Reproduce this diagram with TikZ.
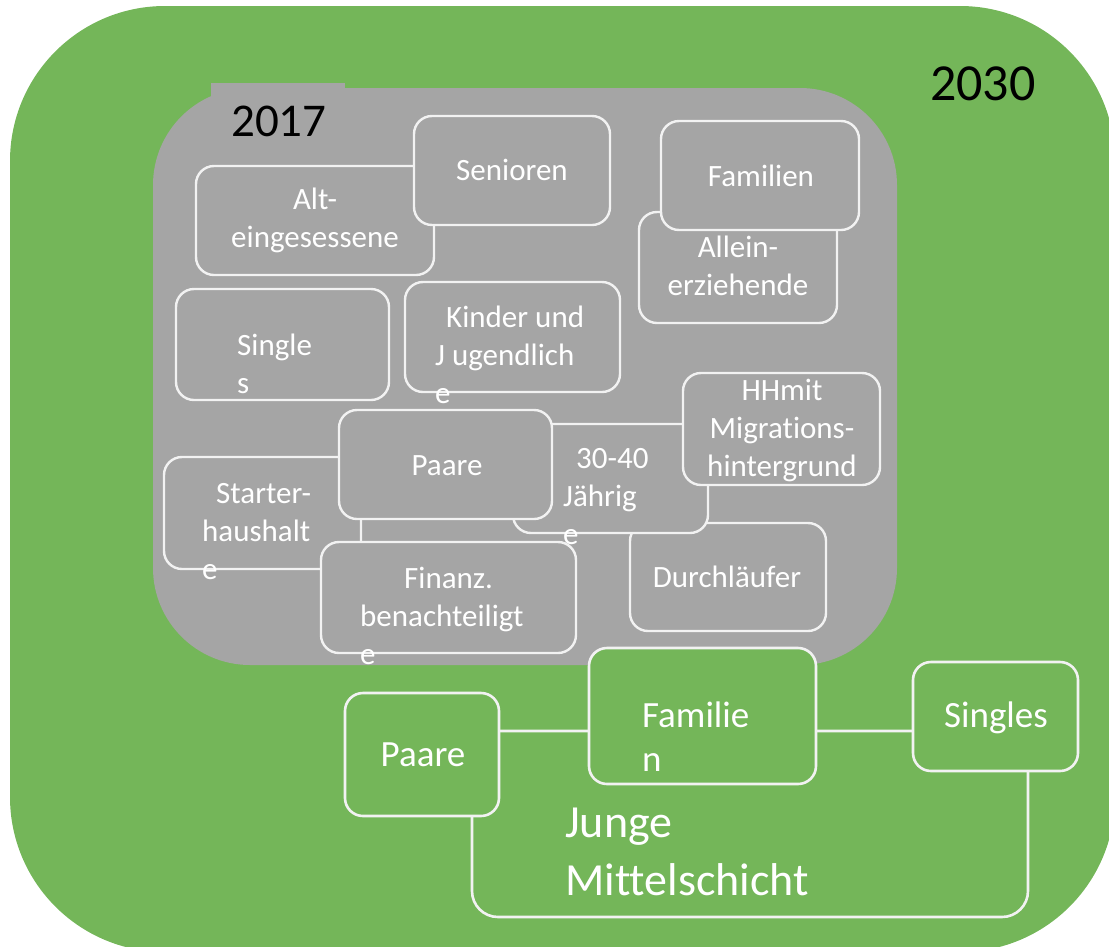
\documentclass[tikz,border=0pt]{standalone}
\usepackage{fontspec}
\setmainfont{Carlito}[Ligatures=NoCommon]
\usetikzlibrary{fit}
\definecolor{outergreen}{RGB}{116,182,89}
\definecolor{panelgray}{RGB}{165,165,165}
\definecolor{edgewhite}{RGB}{242,242,242}
\newcommand\txtC[1]{\begin{tabular}[t]{@{}c@{}}#1\end{tabular}}
\newcommand\txtL[1]{\begin{tabular}[t]{@{}l@{}}#1\end{tabular}}
\begin{document}
\begin{tikzpicture}[x=1pt,y=-1pt]
\tikzset{seg/.style={draw=edgewhite,line width=2.4pt,rounded corners=18pt,inner sep=0pt,fill=panelgray},
  gseg/.style={seg,fill=outergreen,line width=2.6pt},
  lbl/.style={text=white,inner sep=0pt,font=\fontsize{31}{38}\selectfont},
  glbl/.style={lbl,font=\fontsize{37}{44}\selectfont},
  year/.style={text=black,inner sep=0pt}}
\useasboundingbox (0,0) rectangle (1109,946);
\begin{scope}
\clip (0,0) rectangle (1109,946);
\fill[outergreen,rounded corners=155pt] (10,6) rectangle (1115,952);
\end{scope}
% 2017 panel
\fill[panelgray,rounded corners=97pt] (153,88) rectangle (897,665);
\fill[panelgray] (211,83) rectangle (345,100);
\node[year,anchor=base west,font=\fontsize{47}{50}\selectfont] (y17) at (231,136) {2017};
\node[year,anchor=base west,font=\fontsize{52}{56}\selectfont] (y30) at (930,100) {2030};
% groups 2017
\node[seg,fit={(196,166) (434,275)}] (alt) {};
\node[seg,fit={(414,116) (610,225)}] (senior) {};
\node[seg,fit={(639,212) (837,323)}] (allein) {};
\node[seg,fit={(661,121) (859,230)}] (famil) {};
\node[seg,fit={(176,289) (389,400)}] (single) {};
\node[seg,fit={(405,282) (620,392)}] (kinder) {};
\node[seg,fit={(630,523) (826,631)}] (durch) {};
\node[seg,fit={(513,424) (708,533)}] (dreissig) {};
\node[seg,fit={(683,373) (880,485)}] (migra) {};
\node[seg,fit={(164,457) (361,569)}] (starter) {};
\node[seg,fit={(339,410) (552,519)}] (paare) {};
\node[seg,fit={(321,542) (576,653)}] (finanz) {};
\node[lbl,anchor=base] (altT) at (315,209) {\txtC{Alt-\\eingesessene}};
\node[lbl,anchor=base] (seniorT) at (512,180) {Senioren};
\node[lbl,anchor=base] (familT) at (761,186) {Familien};
\node[lbl,anchor=base] (alleinT) at (738,257) {\txtC{Allein-\\erziehende}};
\node[lbl,anchor=base west] (singleT) at (237,355) {\txtL{Single\\s}};
\node[lbl,anchor=base west] (kinderT) at (435,327) {\txtL{\hspace*{11pt}Kinder und\\J ugendlich\\e}};
\node[lbl,anchor=base] (migraT) at (782,400) {\txtC{HHmit\\Migrations-\\hintergrund}};
\node[lbl,anchor=base west] (dreissigT) at (563,468) {\txtL{\hspace*{13pt}30-40\\Jährig\\e}};
\node[lbl,anchor=base] (paareT) at (447,475) {Paare};
\node[lbl,anchor=base west] (starterT) at (202,503) {\txtL{\hspace*{14pt}Starter-\\haushalt\\e}};
\node[lbl,anchor=base west] (finanzT) at (360,588) {\txtL{\hspace*{44pt}Finanz.\\benachteiligt\\e}};
\node[lbl,anchor=base] (durchT) at (727,587) {Durchläufer};
% groups 2030
\node[gseg,rounded corners=26pt,fit={(472,731) (1028,917)}] (junge) {};
\node[gseg,fit={(345,693) (499,816)}] (gpaare) {};
\node[gseg,fit={(589,648) (816,784)}] (gfamil) {};
\node[gseg,fit={(913,662) (1078,771)}] (gsingle) {};
\node[glbl,anchor=base] (gpaareT) at (423,766) {Paare};
\node[glbl,anchor=base west] (gfamilT) at (642,727) {\txtL{Familie\\n}};
\node[glbl,anchor=base] (gsingleT) at (996,727) {Singles};
\node[lbl,anchor=base west,font=\fontsize{46}{58}\selectfont] (jungeT) at (565,837) {\txtL{Junge\\Mittelschicht}};
\end{tikzpicture}
\end{document}
